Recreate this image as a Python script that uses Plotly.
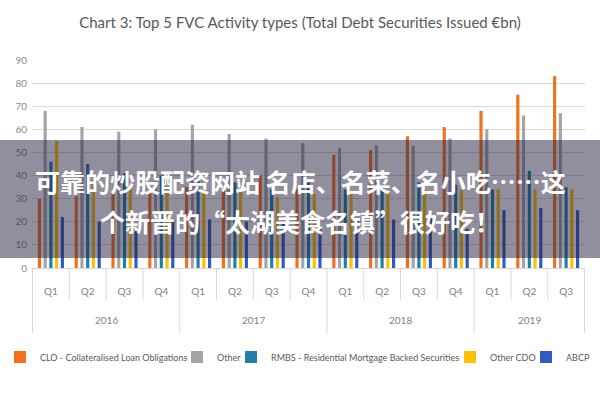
import plotly.graph_objects as go

years = ["2016"] * 4 + ["2017"] * 4 + ["2018"] * 4 + ["2019"] * 3
quarters = ["Q1", "Q2", "Q3", "Q4"] * 3 + ["Q1", "Q2", "Q3"]
year_labels = ["2016", "2017", "2018", "2019"]

clo = [30, 31, 32, 33, 35, 34, 40, 34, 49, 51, 57, 61, 68, 75, 83]
other = [68, 61, 59, 60, 62, 58, 56, 54, 52, 53, 53, 56, 60, 66, 67]
rmbs = [46, 45, 41, 40, 38, 37, 34, 37, 34, 35, 37, 36, 34, 42, 35]
other_cdo = [55, 38, 35, 35, 35, 33, 31, 32, 32, 33, 34, 34, 34, 34, 34]
abcp = [22, 20, 16, 21, 21, 20, 20, 18, 21, 21, 22, 17, 25, 26, 25]

series = [
    ("CLO - Collateralised Loan Obligations", clo, "#F4711C"),
    ("Other", other, "#A5A5A5"),
    ("RMBS - Residential Mortgage Backed Securities", rmbs, "#1E7FAA"),
    ("Other CDO", other_cdo, "#FFC000"),
    ("ABCP", abcp, "#2F5BC4"),
]

title = "Chart 3: Top 5 FVC Activity types (Total Debt Securities Issued €bn)"
banner1 = "可靠的炒股配资网站 名店、名菜、名小吃……这"
banner2 = "个新晋的“太湖美食名镇”很好吃！"

cats = [y + " " + q for y, q in zip(years, quarters)]

# legend placement (left edge of each legend box, px)
legend_px = [-3, 177, 231, 450, 526]
legend_names = ["legend", "legend2", "legend3", "legend4", "legend5"]

font = "Lato, 'Liberation Sans', sans-serif"
fig = go.Figure()
for (name, vals, col), lg in zip(series, legend_names):
    fig.add_trace(go.Bar(x=cats, y=vals, name=name, legend=lg,
                         marker=dict(color=col, line=dict(width=0))))

legend_cfg = {}
for lg, px in zip(legend_names, legend_px):
    legend_cfg[lg] = dict(orientation="h", xref="container", yref="container",
                          x=px / 600, xanchor="left", y=1 - 357 / 400, yanchor="middle",
                          font=dict(family=font, size=9, color="#595959"),
                          bgcolor="rgba(0,0,0,0)", borderwidth=0, itemwidth=30)

fig.update_layout(
    width=600, height=400,
    margin=dict(l=32, r=15, t=60, b=132),
    paper_bgcolor="white", plot_bgcolor="white",
    barmode="group", bargap=0.22, bargroupgap=0.45,
    font=dict(family=font, color="#7F7F7F", size=10),
    title=dict(text=title, x=0.5, xanchor="center", y=1 - 23 / 400, yanchor="middle",
               font=dict(family=font, size=15, color="#595959")),
    showlegend=True,
    xaxis=dict(type="category", tickvals=cats, ticktext=quarters, ticks="",
               showline=True, linecolor="#D9D9D9", ticklabelstandoff=14,
               tickfont=dict(size=10, color="#7F7F7F")),
    yaxis=dict(range=[0, 90], dtick=10, showgrid=True, gridcolor="#D9D9D9", gridwidth=1,
               zeroline=False, tickfont=dict(size=10, color="#8C8C8C"), ticks="",
               showline=False, ticklabelstandoff=4),
    **legend_cfg,
)

def py(px):
    return (268 - px) / 208

# quarter and year dividers below the axis
year_starts = [i for i in range(len(years)) if i == 0 or years[i] != years[i - 1]]
for i in range(len(cats) + 1):
    long = i in year_starts or i == len(cats)
    fig.add_shape(type="line", xref="x", yref="paper", x0=i - 0.5, x1=i - 0.5,
                  y0=0, y1=py(333 if long else 300), line=dict(color="#D9D9D9", width=1))
bounds = year_starts + [len(cats)]
for k, yl in enumerate(year_labels):
    fig.add_annotation(text=yl, xref="x", yref="paper", x=(bounds[k] + bounds[k + 1] - 1) / 2,
                       y=py(320), showarrow=False, yanchor="middle",
                       font=dict(family=font, size=10, color="#7F7F7F"))

fig.add_shape(type="rect", xref="paper", yref="paper", x0=-1, x1=2,
              y0=py(140), y1=py(258),
              fillcolor="rgba(35,30,60,0.5)", line=dict(width=0), layer="above")
cjk = "'Noto Sans CJK SC', sans-serif"
for txt, yy in [(banner1, 181), (banner2, 221)]:
    fig.add_annotation(text="<b>" + txt + "</b>", xref="paper", yref="paper",
                       x=(300 - 32) / 553, y=py(yy), showarrow=False,
                       xanchor="center", yanchor="middle",
                       font=dict(family=cjk, size=25, color="white"))

fig.write_html("out.html")
